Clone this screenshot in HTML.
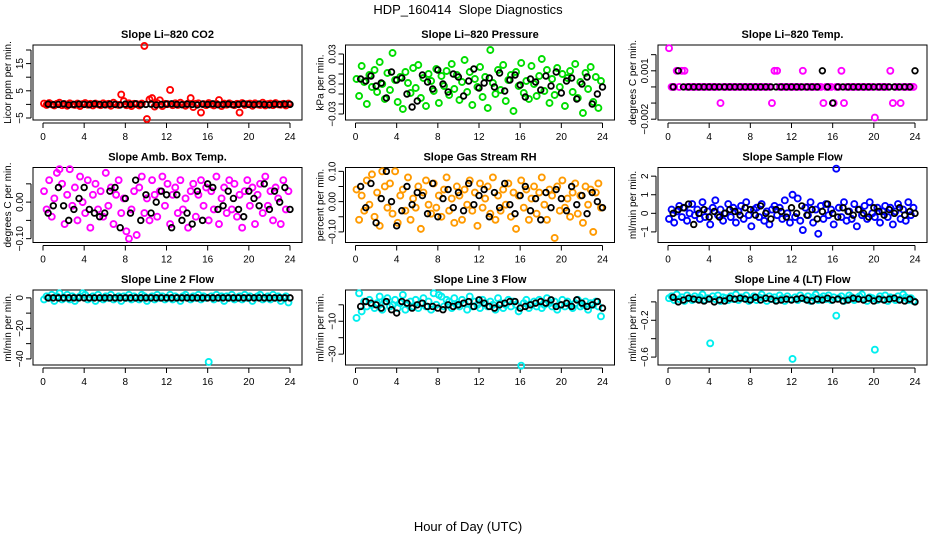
<!DOCTYPE html>
<html><head><meta charset="utf-8">
<style>
html,body{margin:0;padding:0;background:#fff;}
svg{display:block;font-family:"Liberation Sans",Arial,sans-serif;}
</style></head>
<body>
<svg id="chart" width="936" height="540" viewBox="0 0 936 540" xmlns="http://www.w3.org/2000/svg">
<text x="468" y="14" text-anchor="middle" font-size="13">HDP_160414&#160; Slope Diagnostics</text>
<text x="468" y="531" text-anchor="middle" font-size="13">Hour of Day (UTC)</text>
</svg>
<script>
const hoursC = [0.1,0.35,0.6,0.85,1.1,1.35,1.6,1.85,2.1,2.35,2.6,2.85,3.1,3.35,3.6,3.85,4.1,4.35,4.6,4.85,5.1,5.35,5.6,5.85,6.1,6.35,6.6,6.85,7.1,7.35,7.6,7.85,8.1,8.35,8.6,8.85,9.1,9.35,9.6,9.85,10.1,10.35,10.6,10.85,11.1,11.35,11.6,11.85,12.1,12.35,12.6,12.85,13.1,13.35,13.6,13.85,14.1,14.35,14.6,14.85,15.1,15.35,15.6,15.85,16.1,16.35,16.6,16.85,17.1,17.35,17.6,17.85,18.1,18.35,18.6,18.85,19.1,19.35,19.6,19.85,20.1,20.35,20.6,20.85,21.1,21.35,21.6,21.85,22.1,22.35,22.6,22.85,23.1,23.35,23.6,23.85];
const hoursK = [0.5,1,1.5,2,2.5,3,3.5,4,4.5,5,5.5,6,6.5,7,7.5,8,8.5,9,9.5,10,10.5,11,11.5,12,12.5,13,13.5,14,14.5,15,15.5,16,16.5,17,17.5,18,18.5,19,19.5,20,20.5,21,21.5,22,22.5,23,23.5,24];
const xTicks = [0,4,8,12,16,20,24];

const co2C = [0.3,-0.2,0.5,0,-0.4,0.2,0.6,-0.3,0.1,-0.5,0.4,0,-0.2,0.3,-0.6,0.1,0.5,-0.1,0.2,-0.4,0.3,0,-0.3,0.4,-0.1,0.2,-0.5,0.6,0,-0.2,3.6,1.2,-0.3,0.4,-0.6,0.2,0.1,-0.4,0.3,21.5,-5.4,1.8,2.3,-0.8,0.5,1.5,-0.6,0.2,0.1,5.3,-0.3,0.4,-0.2,0.6,0,-0.5,0.3,2.3,-1,0.2,0.4,-3,0.1,-0.3,0.5,0,-0.4,0.2,1.6,-0.6,0.3,-0.1,0.4,0,-0.3,0.2,-3,0.5,-0.2,0.1,0.3,-0.5,0.4,0,-0.2,0.6,-0.4,0.1,0.3,-0.3,0.5,0,-0.1,0.2,-0.4,0.3];
const co2K = [0.1,-0.1,0,0.2,-0.2,0,0.1,0,-0.1,0.2,0,-0.1,0.1,0,-0.2,0.1,0,0.2,-0.1,0,0.1,-0.2,0,0.1,0.2,0,-0.1,0.1,0,-0.2,0.1,0,0.2,-0.1,0,0.1,-0.1,0,0.2,0,-0.1,0.1,0,-0.2,0.1,0,0.1,0];

const presC = [5,-12,18,2,-20,9,-3,14,-8,22,0,-15,11,-6,31,4,-18,7,-25,12,1,-9,16,-4,19,-14,6,-22,10,3,-7,15,-19,8,-2,13,-11,20,-5,9,-16,2,24,-8,12,-21,5,-3,17,-13,7,-24,34,1,-10,14,-6,19,-17,4,9,-27,12,-2,21,-9,3,-15,18,0,-12,8,25,-7,14,-19,5,-11,16,-3,10,-22,6,13,-8,20,-14,2,-29,11,-5,17,-18,7,-24,3];
const presK = [5,3,8,-2,1,-14,12,4,6,-10,-23,-17,9,2,-5,14,0,-8,10,7,-12,3,15,-4,1,6,-3,11,-7,4,9,-1,-13,5,2,-6,8,-2,12,-9,3,6,-15,0,7,-20,-10,-3];

const tempC = [2.4,0,0,1,0,1,1,0,0,0,0,0,0,0,0,0,0,0,0,0,-1,0,0,0,0,0,0,0,0,0,0,0,0,0,0,0,0,0,0,0,-1,1,1,0,0,0,0,0,0,0,0,0,1,0,0,0,0,0,0,0,-1,0,0,0,-1,0,0,1,-1,0,0,0,0,0,0,0,0,0,0,0,-1.9,0,0,0,0,0,1,-1,0,0,-1,0,0,0,0,0];
const tempK = [0,1,0,0,0,0,0,0,0,0,0,0,0,0,0,0,0,0,0,0,0,0,0,0,0,0,0,0,0,1,0,-1,0,0,0,0,0,0,0,0,0,0,0,0,0,0,0,1];

const ambC = [3,-2,6,-4,1,8,9,5,-6,2,9,-1,4,-5,7,0,-3,6,-7,2,5,-2,3,-4,8,-1,4,-6,2,6,-3,1,-8,-10,-2,3,-9,4,7,-3,1,-5,6,2,-4,3,7,-1,5,-6,2,4,-3,6,-2,1,-7,3,5,-4,2,6,-1,4,-5,3,-2,7,-6,1,4,-3,6,-2,5,-4,2,-7,3,6,-1,4,-6,2,5,-3,7,-1,3,-5,4,1,-6,6,-2,3];
const ambK = [-3,-1,4,-1,-5,-2,1,4,-2,-3,-4,-3,3,4,-7,1,-3,6,-5,2,-3,0,3,2,-7,2,-5,-3,-6,3,-5,5,4,-2,-1,3,1,-2,-4,3,1,-1,5,-2,3,0,4,-2];

const rhC = [4,-6,2,-3,7,-1,9,-5,3,-8,10,5,-2,6,-4,10,-7,2,4,-3,8,-6,1,-2,5,-9,3,7,-1,-4,6,-2,2,-5,4,8,-3,1,-7,5,2,-6,4,-1,7,-3,3,-8,6,-2,1,5,-4,8,-6,2,-3,4,-1,6,-5,3,-9,2,7,-2,4,-6,1,5,-4,3,8,-1,-6,4,2,-12,5,-3,7,-2,1,-5,3,6,-4,2,-7,5,-1,4,-10,3,6,-2];
const rhK = [5,-2,6,-7,1,10,0,-8,-3,5,-1,3,2,-4,6,-5,1,4,-2,3,-3,6,-1,2,4,-5,3,-2,6,-1,-4,2,5,-3,1,-6,3,-2,4,1,-3,5,-1,2,-4,3,0,-2];

const flowC = [-3,2,-5,1,4,-2,3,-4,0,5,-1,2,-3,6,-2,1,-6,3,7,-1,2,-4,0,5,-2,3,-5,1,4,-3,6,-1,-7,2,3,-2,5,-4,1,-6,2,4,-1,3,-3,7,0,-5,10,-2,8,-4,-9,3,-1,6,-5,2,-11,4,-3,5,-1,2,-6,24,3,-2,6,-4,1,-3,5,-7,2,-1,4,-3,6,0,-2,3,-5,1,4,-2,3,-6,1,5,-3,2,-4,6,-1,3];
const flowK = [0,2,3,5,-6,0,2,-2,1,-2,0,2,1,-1,3,2,-1,4,0,-3,2,1,-2,3,0,4,-1,2,-3,1,5,0,-2,3,1,-1,2,0,-2,3,1,-1,2,0,3,-1,1,0];

const l2C = [-1,1,0,2,-2,1,3,-1,0,2,-1,1,-2,0,1,3,2,-1,0,1,-2,2,0,-1,1,0,2,-1,0,1,-2,1,0,2,-1,1,0,-1,2,1,-2,0,1,-1,2,0,1,-1,0,2,-1,1,0,-2,1,2,0,-1,1,0,2,-1,1,0,-42,1,-1,2,0,1,-2,1,0,2,-1,0,1,-1,2,0,1,-2,0,1,2,-1,0,1,-1,2,0,1,-2,0,1,-3];
const l2K = [0,0,0,0,0,0,0,0,0,0,0,0,0,0,0,0,0,0,0,0,0,0,0,0,0,0,0,0,0,0,0,0,0,0,0,0,0,0,0,0,0,0,0,0,0,0,0,0];

const l3C = [-8,7,-4,2,-1,3,0,-2,1,5,-3,2,4,-1,0,3,-2,1,6,-3,0,2,-1,3,-2,1,4,-1,2,-3,7,0,6,5,-1,3,2,-2,4,0,-1,3,1,-3,5,-1,2,0,-2,3,1,-1,2,0,-3,4,1,-2,0,3,-1,2,0,-4,-37,1,3,-2,0,2,-1,3,-2,0,4,1,-1,2,-3,0,3,-1,2,0,-2,1,3,-1,0,2,-3,1,0,2,-1,-7];
const l3K = [-1,2,1,0,-2,2,-3,-5,2,1,-2,0,1,-1,-1,-2,-3,0,-1,0,1,2,-1,3,1,-1,-2,0,1,2,2,-2,-1,0,1,2,1,3,-1,0,1,-1,3,1,-1,0,2,-2];

const l4C = [4,6,2,8,3,5,1,7,4,2,6,3,5,8,2,4,-45,6,3,7,1,5,4,2,6,3,8,2,5,4,7,1,3,6,2,5,8,4,1,6,3,5,2,7,4,1,6,3,-62,5,2,7,4,3,6,1,5,8,2,4,6,3,7,2,5,-15,4,6,1,3,7,5,2,4,6,8,3,1,5,4,-52,2,6,3,7,1,5,4,2,6,3,8,5,2,4,1];
const l4K = [5,0,2,4,3,2,1,3,0,2,1,4,3,4,3,2,5,2,4,3,1,2,3,2,3,4,2,1,3,2,4,2,3,1,2,4,3,2,4,1,3,2,3,4,2,1,3,0];

const panels = [
 {name:'co2', title:'Slope Li\u2013820 CO2', ylab:'Licor ppm per min.', col:'#ff0000', c:co2C, k:co2K, s:1, top:21.84, bot:-5.74, ticks:[20,15,10,5,0,-5], labels:['','15','','5','','\u22125']},
 {name:'pressure', title:'Slope Li\u2013820 Pressure', ylab:'kPa per min.', col:'#00dd00', c:presC, k:presK, s:0.001, top:0.039, bot:-0.036, ticks:[0.03,0.02,0.01,0,-0.01,-0.02,-0.03], labels:['0.03','','','0.00','','','\u22120.03']},
 {name:'li820-temp', title:'Slope Li\u2013820 Temp.', ylab:'degrees C per min.', col:'#ff00ff', c:tempC, k:tempK, s:0.001, top:0.0026, bot:-0.00205, ticks:[0.002,0.001,0,-0.001,-0.002], labels:['','0.001','','','\u22120.002']},
 {name:'amb-box-temp', title:'Slope Amb. Box Temp.', ylab:'degrees C per min.', col:'#ff00ff', c:ambC, k:ambK, s:0.01, top:0.0947, bot:-0.1105, ticks:[0.05,0,-0.05,-0.1], labels:['','0.00','','\u22120.10']},
 {name:'gas-stream-rh', title:'Slope Gas Stream RH', ylab:'percent per min.', col:'#ff9a00', c:rhC, k:rhK, s:0.01, top:0.1127, bot:-0.135, ticks:[0.1,0.05,0,-0.05,-0.1], labels:['0.10','','0.00','','\u22120.10']},
 {name:'sample-flow', title:'Slope Sample Flow', ylab:'ml/min per min.', col:'#0000ff', c:flowC, k:flowK, s:0.1, top:2.466, bot:-1.57, ticks:[2,1,0,-1], labels:['2','1','0','\u22121']},
 {name:'line2-flow', title:'Slope Line 2 Flow', ylab:'ml/min per min.', col:'#00eeee', c:l2C, k:l2K, s:1, top:5.16, bot:-44, ticks:[0,-10,-20,-30,-40], labels:['0','','\u221220','','\u221240']},
 {name:'line3-flow', title:'Slope Line 3 Flow', ylab:'ml/min per min.', col:'#00eeee', c:l3C, k:l3K, s:1, top:9, bot:-36.6, ticks:[0,-10,-20,-30], labels:['','\u221210','','\u221230']},
 {name:'line4-flow', title:'Slope Line 4 (LT) Flow', ylab:'ml/min per min.', col:'#00eeee', c:l4C, k:l4K, s:0.01, top:0.129, bot:-0.686, ticks:[0,-0.2,-0.4,-0.6], labels:['','\u22120.2','','\u22120.6']}
];

const svg = document.getElementById('chart');
const NS = 'http://www.w3.org/2000/svg';
function mk(tag, attrs, parent){
  const e = document.createElementNS(NS, tag);
  for (const k in attrs) e.setAttribute(k, attrs[k]);
  parent.appendChild(e);
  return e;
}
panels.forEach((p, i) => {
  const col = i % 3, row = Math.floor(i / 3);
  const L = 33 + 312.5 * col, R = L + 269, T = 45 + 122.5 * row, B = T + 75;
  const xs = h => L + 10 + h / 24 * 247;
  const ys = v => T + (p.top - v) / (p.top - p.bot) * (B - T);
  const g = mk('g', {}, svg);
  
  
  const t = mk('text', {x:(L+R)/2, y:T-7, 'text-anchor':'middle', 'font-size':'11', 'font-weight':'bold'}, g);
  t.textContent = p.title;
  
  
  const box = mk('rect', {x:L, y:T, width:R-L, height:B-T, fill:'none', stroke:'#000', 'stroke-width':'1'}, g);
  
  
  const xa = mk('g', {}, g);
  
  
  mk('line', {x1:xs(xTicks[0]), x2:xs(xTicks[xTicks.length-1]), y1:B+3, y2:B+3, stroke:'#000'}, xa);
  xTicks.forEach(v => {
    mk('line', {x1:xs(v), x2:xs(v), y1:B+3, y2:B+8, stroke:'#000'}, xa);
    const tl = mk('text', {x:xs(v), y:B+20, 'text-anchor':'middle', 'font-size':'10'}, xa);
    tl.textContent = v;
    
    
  });
  const ya = mk('g', {}, g);
  
  
  mk('line', {x1:L-2, x2:L-2, y1:ys(p.ticks[0]), y2:ys(p.ticks[p.ticks.length-1]), stroke:'#000'}, ya);
  p.ticks.forEach((v, j) => {
    const y = ys(v);
    mk('line', {x1:L-7, x2:L-2, y1:y, y2:y, stroke:'#000'}, ya);
    if (p.labels[j]) {
      const yl = mk('text', {x:0, y:0, 'text-anchor':'middle', 'font-size':'10', transform:'translate(' + (L-10) + ',' + y + ') rotate(-90)'}, ya);
      yl.textContent = p.labels[j];
      
      
    }
  });
  const yt = mk('text', {x:0, y:0, 'text-anchor':'middle', 'font-size':'10', transform:'translate(' + (L-22) + ',' + ((T+B)/2) + ') rotate(-90)'}, g);
  yt.textContent = p.ylab;
  
  
  const cs = mk('g', {fill:'none', stroke:p.col, 'stroke-width':'1.9'}, g);
  
  
  p.c.forEach((v, j) => {
    const pt = mk('circle', {cx:xs(hoursC[j]), cy:ys(v * p.s), r:3}, cs);
    
    
  });
  const ks = mk('g', {fill:'none', stroke:'#000', 'stroke-width':'1.8'}, g);
  
  
  p.k.forEach((v, j) => {
    const pt = mk('circle', {cx:xs(hoursK[j]), cy:ys(v * p.s), r:2.8}, ks);
    
    
  });
});
</script>
</body></html>
